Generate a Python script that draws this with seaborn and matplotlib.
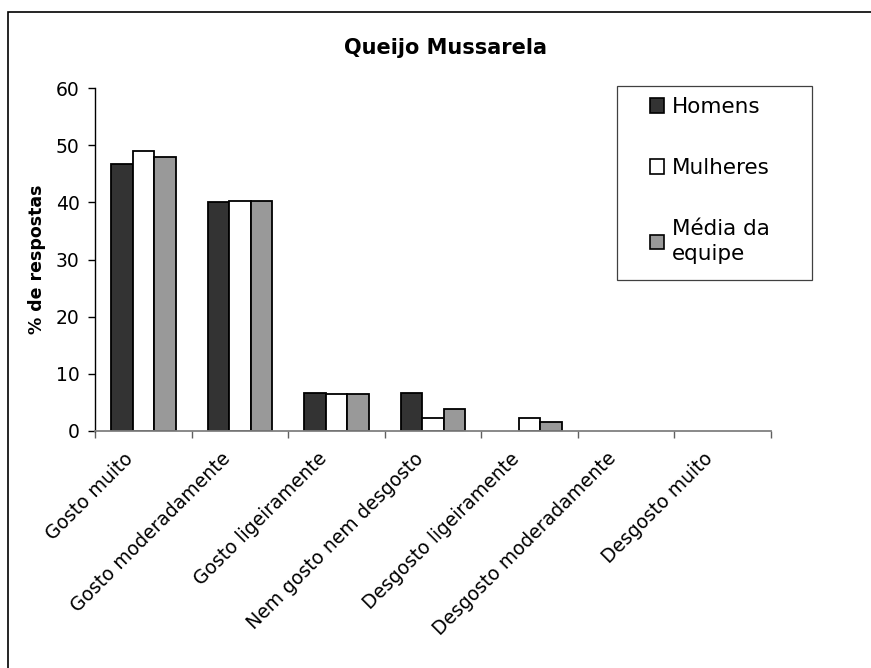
import matplotlib
matplotlib.use("Agg")
import matplotlib.pyplot as plt
from matplotlib.patches import Patch, Rectangle
from matplotlib.transforms import ScaledTranslation
import seaborn as sns
import pandas as pd

categorias = [
    "Gosto muito",
    "Gosto moderadamente",
    "Gosto ligeiramente",
    "Nem gosto nem desgosto",
    "Desgosto ligeiramente",
    "Desgosto moderadamente",
    "Desgosto muito",
]
homens = [46.7, 40.0, 6.7, 6.7, 0.0, 0.0, 0.0]
mulheres = [49.0, 40.3, 6.4, 2.2, 2.2, 0.0, 0.0]
media_equipe = [48.0, 40.3, 6.4, 3.9, 1.5, 0.0, 0.0]
series = ["Homens", "Mulheres", "Média da\nequipe"]
cores = ["#333333", "#ffffff", "#999999"]
y_ticks = [0, 10, 20, 30, 40, 50, 60]

df = pd.DataFrame({
    "categoria": categorias * 3,
    "serie": [series[0]] * 7 + [series[1]] * 7 + [series[2]] * 7,
    "valor": homens + mulheres + media_equipe,
})

sns.set_theme(style="white")
plt.rcParams["font.family"] = ["DejaVu Sans"]
plt.rcParams["text.color"] = "black"
plt.rcParams["axes.labelcolor"] = "black"
plt.rcParams["xtick.color"] = "black"
plt.rcParams["ytick.color"] = "black"

W, H = 871, 668
fig = plt.figure(figsize=(W / 100, H / 100), dpi=100)
ax = fig.add_axes([95 / W, 1 - 431 / H, 676 / W, 343 / H])

sns.barplot(
    data=df, x="categoria", y="valor", hue="serie",
    order=categorias, hue_order=series, palette=cores,
    width=0.67, gap=0, edgecolor="black", linewidth=1.3,
    saturation=1, legend=False, ax=ax,
)
# empty bars leave no outline on the axis
for barra in ax.patches:
    if barra.get_height() == 0:
        barra.set_linewidth(0)

ax.set_xlim(-0.5, 6.5)
ax.set_ylim(0, 60)
ax.set_yticks(y_ticks)
ax.set_yticklabels([str(v) for v in y_ticks], fontsize=13.5)

# category names: rotated text placed under each category, nudged left
ax.set_xticks(range(len(categorias)))
ax.set_xticklabels([])
ax.tick_params(axis="x", which="major", length=0)
label_tf = ax.get_xaxis_transform() + ScaledTranslation(-14 / 72, -13 / 72,
                                                        fig.dpi_scale_trans)
for i, nome in enumerate(categorias):
    ax.text(i, 0, nome, transform=label_tf, rotation=45, ha="right", va="top",
            rotation_mode="anchor", fontsize=13.5, clip_on=False)

ax.set_xticks([i - 0.5 for i in range(len(categorias) + 1)], minor=True)
ax.tick_params(axis="x", which="minor", length=5, width=1, color="#606060",
               direction="out", bottom=True)
ax.tick_params(axis="y", length=5, width=1, color="black", direction="out",
               left=True, pad=6)
ax.set_xlabel("")
ax.set_ylabel("% de respostas", fontsize=12.5, fontweight="bold", labelpad=7)

for side in ["top", "right"]:
    ax.spines[side].set_visible(False)
ax.spines["left"].set_color("black")
ax.spines["bottom"].set_color("#808080")
ax.spines["left"].set_linewidth(1)
ax.spines["bottom"].set_linewidth(1.3)

fig.text(445 / W, 1 - 48 / H, "Queijo Mussarela", ha="center", va="center",
         fontsize=15, fontweight="bold")

# legend box
fig.patches.append(Rectangle((617 / W, 1 - 280 / H), 195 / W, 194 / H,
                             transform=fig.transFigure, fill=False,
                             edgecolor="#404040", linewidth=0.9))
handles = [Patch(facecolor=c, edgecolor="black", linewidth=1.2) for c in cores]
leg = fig.legend(
    handles, series, loc="upper left",
    bbox_to_anchor=(650 / W, 1 - 97 / H),
    fontsize=15.5, frameon=False, borderpad=0, borderaxespad=0,
    handlelength=0.65, handleheight=0.65,
    handletextpad=0.35, labelspacing=1.9,
)
leg.get_texts()[2].set_linespacing(1.35)

# outer border
fig.patches.append(Rectangle((8 / W, -0.1), 1.2, 1.1 - 12 / H,
                             transform=fig.transFigure, fill=False,
                             edgecolor="black", linewidth=1.2))

fig.savefig("out.png", dpi=100)
